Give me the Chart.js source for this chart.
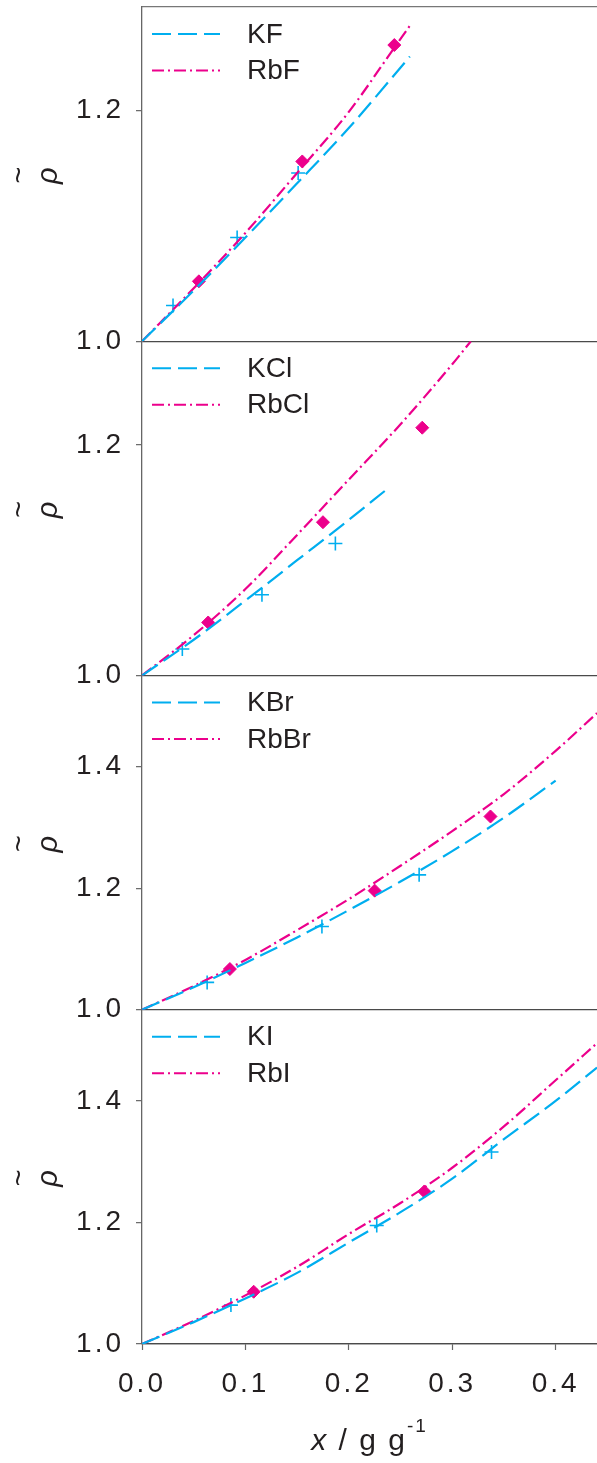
<!DOCTYPE html>
<html>
<head>
<meta charset="utf-8">
<script src="https://cdn.jsdelivr.net/npm/chart.js"></script>
<style>
  html, body { margin: 0; padding: 0; background: #fff; }
  canvas { display: block; }
</style>
</head>
<body>
<canvas id="density" width="597" height="1463"></canvas>
<script>
// axis ticks
const xTicks = [0.0, 0.1, 0.2, 0.3, 0.4];
const yTicksLow = [1.0, 1.2];
const yTicksHigh = [1.0, 1.2, 1.4];

// fluorides
const kfCurve = [[0, 1.000], [0.05, 1.044], [0.10, 1.090], [0.15, 1.137], [0.20, 1.185], [0.259, 1.247]];
const rbfCurve = [[0, 1.000], [0.05, 1.046], [0.10, 1.094], [0.15, 1.146], [0.20, 1.199], [0.245, 1.256], [0.260, 1.275]];
const kfPoints = [[0.030, 1.031], [0.092, 1.090], [0.151, 1.146]];
const rbfPoints = [[0.055, 1.052], [0.155, 1.156], [0.244, 1.257]];

// chlorides
const kclCurve = [[0, 1.000], [0.05, 1.031], [0.10, 1.065], [0.15, 1.100], [0.20, 1.135], [0.236, 1.161]];
const rbclCurve = [[0, 1.000], [0.05, 1.035], [0.10, 1.075], [0.15, 1.122], [0.20, 1.170], [0.25, 1.218], [0.30, 1.270], [0.318, 1.290]];
const kclPoints = [[0.039, 1.023], [0.116, 1.070], [0.187, 1.1145]];
const rbclPoints = [[0.064, 1.046], [0.175, 1.133], [0.271, 1.215]];

// bromides
const kbrCurve = [[0, 1.000], [0.05, 1.037], [0.10, 1.077], [0.15, 1.119], [0.20, 1.164], [0.25, 1.211], [0.30, 1.261], [0.35, 1.316], [0.40, 1.377]];
const rbbrCurve = [[0, 1.000], [0.05, 1.039], [0.10, 1.082], [0.15, 1.131], [0.20, 1.182], [0.25, 1.237], [0.30, 1.294], [0.35, 1.355], [0.40, 1.426], [0.44, 1.488]];
const kbrPoints = [[0.063, 1.045], [0.174, 1.137], [0.268, 1.222]];
const rbbrPoints = [[0.085, 1.067], [0.225, 1.196], [0.337, 1.318]];

// iodides
const kiCurve = [[0, 1.000], [0.05, 1.036], [0.10, 1.075], [0.15, 1.117], [0.20, 1.167], [0.25, 1.217], [0.30, 1.272], [0.35, 1.337], [0.40, 1.400], [0.44, 1.455]];
const rbiCurve = [[0, 1.000], [0.05, 1.038], [0.10, 1.080], [0.15, 1.127], [0.20, 1.181], [0.25, 1.232], [0.30, 1.290], [0.35, 1.358], [0.40, 1.434], [0.44, 1.495]];
const kiPoints = [[0.086, 1.064], [0.227, 1.195], [0.338, 1.316]];
const rbiPoints = [[0.108, 1.086], [0.273, 1.251]];

const BLUE = '#00aeef';
const PINK = '#ec008c';
const INK = '#231f20';
const AXIS = '#666666';
const SEP = '#4a4a4a';
const FAMILY = "'Liberation Sans', Arial, Helvetica, sans-serif";
const DASH_K = [19, 7];
const DASH_RB = [12, 4, 2, 4];

const xy = pts => pts.map(([x, y]) => ({ x, y }));

// no label overhang padding, so the plot area sits where the layout puts it
function noPad(s) {
  s.paddingTop = 0;
  s.paddingBottom = 0;
  s.paddingLeft = 0;
  s.paddingRight = 0;
}

function curve(label, pts, axis, color, dash) {
  return {
    label, data: xy(pts), yAxisID: axis,
    borderColor: color, borderWidth: 2.2, borderDash: dash,
    pointRadius: 0, fill: false, cubicInterpolationMode: 'monotone'
  };
}

function kMarks(pts, axis) {
  return {
    label: '', data: xy(pts), yAxisID: axis, showLine: false,
    pointStyle: 'cross', pointRadius: 7, pointBorderWidth: 1.6,
    pointBorderColor: BLUE, pointBackgroundColor: BLUE
  };
}

function rbMarks(pts, axis) {
  return {
    label: '', data: xy(pts), yAxisID: axis, showLine: false,
    pointStyle: 'rectRot', pointRadius: 6.5, pointBorderWidth: 1,
    pointBorderColor: PINK, pointBackgroundColor: PINK
  };
}

function yScale(max, ticks, weight) {
  return {
    type: 'linear', position: 'left', stack: 'panels', weight,
    min: 1.0, max,
    afterBuildTicks: s => { s.ticks = ticks.map(v => ({ value: v })); },
    afterFit: s => { s.width = 142; noPad(s); },
    ticks: { padding: 12, color: INK, font: { family: FAMILY, size: 28 }, callback: v => v.toFixed(1) },
    grid: {
      drawOnChartArea: true,
      color: c => (c.tick && c.tick.value === 1 ? SEP : 'transparent'),
      lineWidth: 1.3, tickColor: AXIS, tickLength: 6, tickWidth: 1.2
    },
    border: { color: AXIS, width: 1.3 },
    title: {
      display: true, text: ['~', 'ρ'], color: INK,
      font: { family: FAMILY, size: 29, style: 'italic', lineHeight: 1.0 },
      padding: { top: 5, bottom: 0 }
    }
  };
}

// spaced digits for axis numbers
const spacing = {
  id: 'spacing',
  beforeDraw(chart) { chart.ctx.letterSpacing = '3px'; }
};

// in-panel legends and the x axis title
const annotations = {
  id: 'annotations',
  afterDraw(chart) {
    const ctx = chart.ctx;
    const area = chart.chartArea;
    ctx.save();
    ctx.letterSpacing = '0px';
    const rows = {};
    chart.data.datasets.forEach(ds => {
      if (ds.showLine === false) return;
      (rows[ds.yAxisID] = rows[ds.yAxisID] || []).push(ds);
    });
    Object.keys(rows).forEach(id => {
      const scale = chart.scales[id];
      rows[id].forEach((ds, i) => {
        const y = scale.top + 27 + i * 36.5;
        ctx.beginPath();
        ctx.setLineDash(ds.borderDash);
        ctx.strokeStyle = ds.borderColor;
        ctx.lineWidth = ds.borderWidth;
        ctx.moveTo(area.left + 10, y);
        ctx.lineTo(area.left + 78, y);
        ctx.stroke();
        ctx.setLineDash([]);
        ctx.fillStyle = INK;
        ctx.font = `28px ${FAMILY}`;
        ctx.textBaseline = 'middle';
        ctx.textAlign = 'left';
        ctx.fillText(ds.label, area.left + 105, y + 1);
      });
    });

    // x / g g^-1
    const parts = [
      { t: 'x', font: `italic 30px ${FAMILY}`, dy: 0 },
      { t: ' / g g', font: `30px ${FAMILY}`, dy: 0 },
      { t: '-1', font: `19px ${FAMILY}`, dy: -18 }
    ];
    ctx.letterSpacing = '2px';
    ctx.textBaseline = 'alphabetic';
    ctx.textAlign = 'left';
    let total = 0;
    parts.forEach(p => { ctx.font = p.font; p.w = ctx.measureText(p.t).width; total += p.w; });
    let x = (area.left + area.right) / 2 - total / 2;
    const base = chart.scales.x.bottom - 13;
    ctx.fillStyle = INK;
    parts.forEach(p => { ctx.font = p.font; ctx.fillText(p.t, x, base + p.dy); x += p.w; });
    ctx.restore();
  }
};

new Chart(document.getElementById('density'), {
  type: 'line',
  data: {
    datasets: [
      curve('KF', kfCurve, 'yF', BLUE, DASH_K),
      curve('RbF', rbfCurve, 'yF', PINK, DASH_RB),
      kMarks(kfPoints, 'yF'),
      rbMarks(rbfPoints, 'yF'),
      curve('KCl', kclCurve, 'yCl', BLUE, DASH_K),
      curve('RbCl', rbclCurve, 'yCl', PINK, DASH_RB),
      kMarks(kclPoints, 'yCl'),
      rbMarks(rbclPoints, 'yCl'),
      curve('KBr', kbrCurve, 'yBr', BLUE, DASH_K),
      curve('RbBr', rbbrCurve, 'yBr', PINK, DASH_RB),
      kMarks(kbrPoints, 'yBr'),
      rbMarks(rbbrPoints, 'yBr'),
      curve('KI', kiCurve, 'yI', BLUE, DASH_K),
      curve('RbI', rbiCurve, 'yI', PINK, DASH_RB),
      kMarks(kiPoints, 'yI'),
      rbMarks(rbiPoints, 'yI')
    ]
  },
  options: {
    responsive: false,
    animation: false,
    devicePixelRatio: 1,
    layout: { autoPadding: false, padding: { top: 7, right: 0, left: 0, bottom: 0 } },
    plugins: { legend: { display: false }, tooltip: { enabled: false } },
    scales: {
      x: {
        type: 'linear', position: 'bottom', min: 0, max: 0.44,
        afterBuildTicks: s => { s.ticks = xTicks.map(v => ({ value: v })); },
        afterFit: s => { s.height = 119; noPad(s); },
        ticks: { padding: 17, color: INK, font: { family: FAMILY, size: 28 }, callback: v => v.toFixed(1), maxRotation: 0 },
        grid: { drawOnChartArea: false, tickColor: AXIS, tickLength: 6, tickWidth: 1.2 },
        border: { color: SEP, width: 1.3 }
      },
      xTop: {
        type: 'linear', position: 'top', min: 0, max: 0.44,
        afterFit: s => { s.height = 0; noPad(s); },
        ticks: { display: false },
        grid: { drawOnChartArea: false, drawTicks: false },
        border: { color: '#777777', width: 1.3 }
      },
      yF: yScale(1.29, yTicksLow, 4),
      yCl: yScale(1.29, yTicksLow, 3),
      yBr: yScale(1.55, yTicksHigh, 2),
      yI: yScale(1.55, yTicksHigh, 1)
    }
  },
  plugins: [spacing, annotations]
});
</script>
</body>
</html>
